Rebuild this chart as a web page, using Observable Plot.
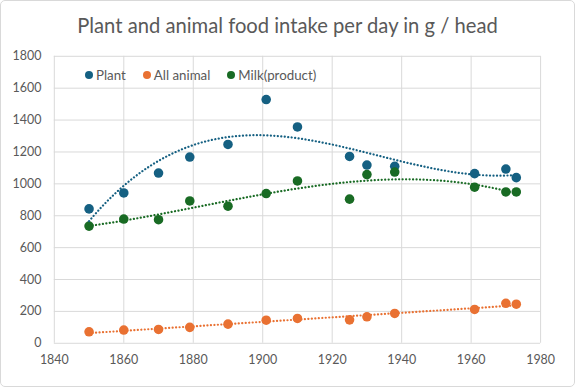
<!DOCTYPE html>
<html>
<head>
<meta charset="utf-8">
<script src="https://cdn.jsdelivr.net/npm/d3@7"></script>
<script src="https://cdn.jsdelivr.net/npm/@observablehq/plot@0.6"></script>
<style>
  html, body { margin: 0; padding: 0; background: #fff; }
  #wrap { position: relative; width: 575px; height: 387px; box-sizing: border-box; border: 1px solid #d9d9d9; border-radius: 5px; overflow: hidden; background: #fff; font-family: Lato, sans-serif; color: #595959; }
  #wrap svg { position: absolute; left: -1px; top: -1px; }
  #title { position: absolute; top: 12px; left: 0; width: 573px; text-align: center; font-size: 20.2px; color: #595959; white-space: nowrap; }
  #legend { position: absolute; top: 66px; left: 84px; display: flex; gap: 17px; font-size: 13.3px; color: #595959; z-index: 2; }
  .item { display: flex; align-items: center; gap: 3px; }
  .sw { width: 8px; height: 8px; border-radius: 50%; display: inline-block; }
</style>
</head>
<body>
<div id="wrap">
  <div id="title"></div>
  <div id="legend"></div>
</div>
<script>
const titleText = "Plant and animal food intake per day in g / head";
const seriesNames = ["Plant", "All animal", "Milk(product)"];
const seriesColors = ["#156082", "#E97132", "#196B24"];
const years  = [1850, 1860, 1870, 1879, 1890, 1901, 1910, 1925, 1930, 1938, 1961, 1970, 1973];
const plant  = [843, 943, 1068, 1168, 1247, 1529, 1357, 1172, 1118, 1110, 1064, 1093, 1039];
const animal = [72, 83, 87, 100, 120, 145, 156, 147, 166, 187, 212, 251, 245];
const milk   = [735, 779, 775, 893, 860, 939, 1018, 904, 1058, 1074, 979, 949, 949];
const xTicks = [1840, 1860, 1880, 1900, 1920, 1940, 1960, 1980];
const yTicks = [0, 200, 400, 600, 800, 1000, 1200, 1400, 1600, 1800];
const trendOrder = [3, 1, 3];

const seriesValues = [plant, animal, milk];

// long table of points
const points = [];
seriesValues.forEach((vals, si) => vals.forEach((v, i) => points.push({series: seriesNames[si], year: years[i], value: v})));

// least-squares polynomial trendline (like a spreadsheet trendline)
function polyfit(xs, ys, order) {
  const n = order + 1;
  const A = Array.from({length: n}, () => new Array(n + 1).fill(0));
  xs.forEach((x0, k) => {
    const x = (x0 - 1910) / 60;
    for (let i = 0; i < n; i++) {
      for (let j = 0; j < n; j++) A[i][j] += Math.pow(x, i + j);
      A[i][n] += ys[k] * Math.pow(x, i);
    }
  });
  for (let c = 0; c < n; c++) {
    let p = c;
    for (let r = c + 1; r < n; r++) if (Math.abs(A[r][c]) > Math.abs(A[p][c])) p = r;
    [A[c], A[p]] = [A[p], A[c]];
    for (let r = 0; r < n; r++) {
      if (r === c) continue;
      const f = A[r][c] / A[c][c];
      for (let k = c; k <= n; k++) A[r][k] -= f * A[c][k];
    }
  }
  const coef = A.map((row, i) => row[n] / row[i]);
  return x0 => { const x = (x0 - 1910) / 60; return coef.reduce((s, c, i) => s + c * Math.pow(x, i), 0); };
}
const trends = [];
seriesValues.forEach((vals, si) => {
  const f = polyfit(years, vals, trendOrder[si]);
  const x0 = d3.min(years), x1 = d3.max(years);
  d3.range(x0, x1 + 0.001, 0.5).forEach(x => trends.push({series: seriesNames[si], year: x, value: f(x)}));
});

const color = {domain: seriesNames, range: seriesColors};

const chart = Plot.plot({
  width: 575,
  height: 387,
  marginLeft: 54,
  marginRight: 33,
  marginTop: 56,
  marginBottom: 43,
  style: {fontFamily: "Lato, sans-serif", fontSize: "12.5px", color: "#595959", background: "transparent"},
  x: {domain: [1840, 1980], ticks: xTicks, tickFormat: d => String(d), tickSize: 0, tickPadding: 12, label: null},
  y: {domain: [0, 1800], ticks: yTicks, tickFormat: d => String(d), tickSize: 0, tickPadding: 13, label: null},
  color,
  marks: [
    Plot.gridX(xTicks, {stroke: "#d9d9d9", strokeOpacity: 1, strokeWidth: 1}),
    Plot.gridY(yTicks, {stroke: "#d9d9d9", strokeOpacity: 1, strokeWidth: 1}),
    Plot.dot(points, {x: "year", y: "value", fill: "series", r: 4.8}),
    Plot.line(trends, {x: "year", y: "value", z: "series", stroke: "series", strokeWidth: 2.2, strokeDasharray: "0.1 3.4", strokeLinecap: "round"})
  ]
});
document.getElementById("wrap").appendChild(chart);

document.getElementById("title").textContent = titleText;
const legend = document.getElementById("legend");
seriesNames.forEach((name, i) => {
  const item = document.createElement("span");
  item.className = "item";
  const sw = document.createElement("span");
  sw.className = "sw";
  sw.style.background = seriesColors[i];
  const t = document.createElement("span");
  t.textContent = name;
  item.appendChild(sw); item.appendChild(t);
  legend.appendChild(item);
});
</script>
</body>
</html>
